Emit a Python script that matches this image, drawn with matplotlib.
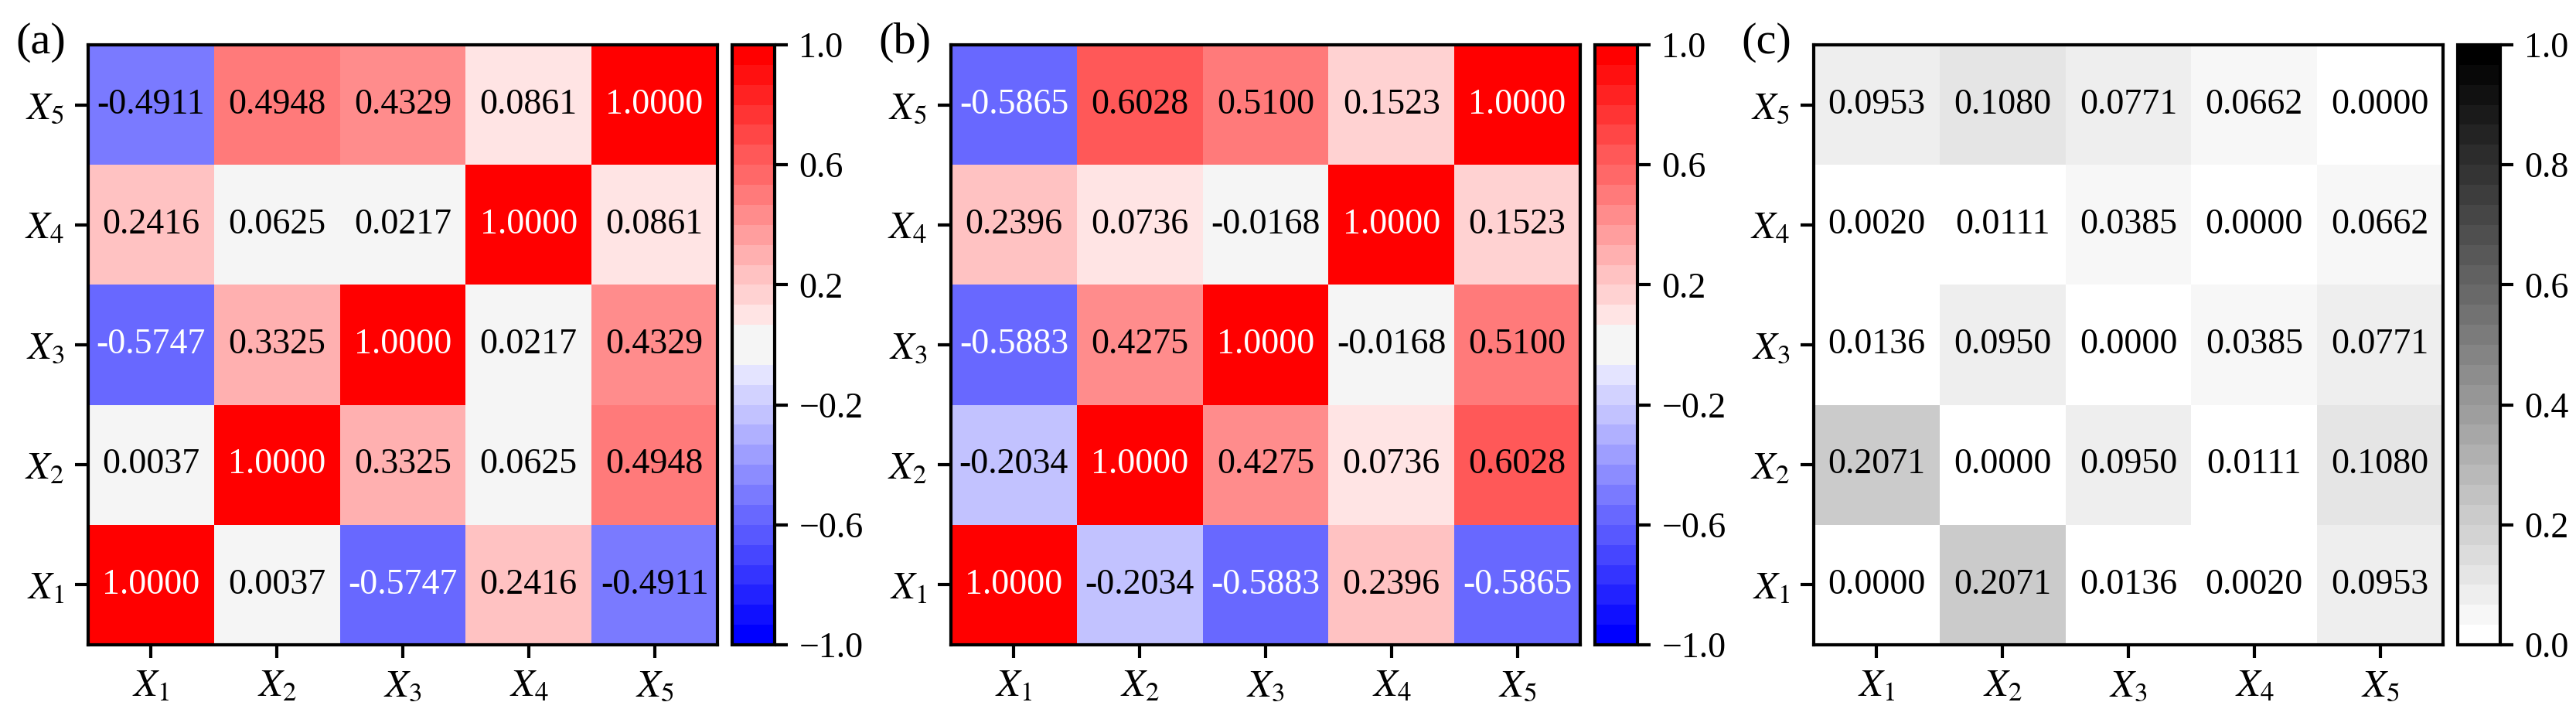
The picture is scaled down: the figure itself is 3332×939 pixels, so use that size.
import numpy as np
import matplotlib
matplotlib.use("Agg")
import matplotlib.pyplot as plt
from matplotlib.colors import ListedColormap

plt.rcParams['font.family'] = ['Liberation Serif', 'DejaVu Serif']
plt.rcParams['mathtext.fontset'] = 'stix'
plt.rcParams['font.size'] = 11

names = [r'$X_1$', r'$X_2$', r'$X_3$', r'$X_4$', r'$X_5$']

# rows X1..X5 (X1 drawn at the bottom)
corr_a = [[1.0000, 0.0037, -0.5747, 0.2416, -0.4911],
          [0.0037, 1.0000, 0.3325, 0.0625, 0.4948],
          [-0.5747, 0.3325, 1.0000, 0.0217, 0.4329],
          [0.2416, 0.0625, 0.0217, 1.0000, 0.0861],
          [-0.4911, 0.4948, 0.4329, 0.0861, 1.0000]]

corr_b = [[1.0000, -0.2034, -0.5883, 0.2396, -0.5865],
          [-0.2034, 1.0000, 0.4275, 0.0736, 0.6028],
          [-0.5883, 0.4275, 1.0000, -0.0168, 0.5100],
          [0.2396, 0.0736, -0.0168, 1.0000, 0.1523],
          [-0.5865, 0.6028, 0.5100, 0.1523, 1.0000]]

diff_c = [[0.0000, 0.2071, 0.0136, 0.0020, 0.0953],
          [0.2071, 0.0000, 0.0950, 0.0111, 0.1080],
          [0.0136, 0.0950, 0.0000, 0.0385, 0.0771],
          [0.0020, 0.0111, 0.0385, 0.0000, 0.0662],
          [0.0953, 0.1080, 0.0771, 0.0662, 0.0000]]

panel_tags = ['(a)', '(b)', '(c)']

# discrete colormaps, 30 levels
nlev = 30
bwr_cols = plt.get_cmap('bwr')(np.linspace(0, 1, nlev))
bwr_cols[14] = [0.961, 0.961, 0.961, 1]
bwr_cols[15] = [0.961, 0.961, 0.961, 1]
cmap_div = ListedColormap(bwr_cols)
cmap_gray = ListedColormap(plt.get_cmap('gray_r')(np.linspace(0, 1, nlev)))

W, H = 3332, 939
fig = plt.figure(figsize=(W / 300, H / 300), dpi=300)

ax_left = 114 / W
ax_w = 814 / W
ax_b = (H - 834) / H
ax_h = 776 / H
cb_left = 947 / W
cb_w = 55 / W
step = 1116 / W

panels = [(corr_a, cmap_div, -1, 1, [-1.0, -0.6, -0.2, 0.2, 0.6, 1.0]),
          (corr_b, cmap_div, -1, 1, [-1.0, -0.6, -0.2, 0.2, 0.6, 1.0]),
          (diff_c, cmap_gray, 0, 1, [0.0, 0.2, 0.4, 0.6, 0.8, 1.0])]

for k, (mat, cmap, vmin, vmax, cticks) in enumerate(panels):
    M = np.array(mat)
    ax = fig.add_axes([ax_left + k * step, ax_b, ax_w, ax_h])
    cax = fig.add_axes([cb_left + k * step, ax_b, cb_w, ax_h])
    mesh = ax.pcolormesh(np.arange(6), np.arange(6), M, cmap=cmap,
                         vmin=vmin, vmax=vmax)
    for i in range(5):
        for j in range(5):
            v = M[i, j]
            if vmin < 0 and (v <= -0.55 or v >= 0.95):
                col = 'white'
            else:
                col = 'black'
            ax.text(j + 0.5, i + 0.5, '%.4f' % v, ha='center', va='center',
                    color=col, fontsize=11)
    ax.set_xticks(np.arange(5) + 0.5)
    ax.set_yticks(np.arange(5) + 0.5)
    ax.set_xticklabels(names, fontsize=12)
    ax.set_yticklabels(names, fontsize=12)
    ax.set_xlim(0, 5)
    ax.set_ylim(0, 5)
    for s in ax.spines.values():
        s.set_linewidth(1.0)
    ax.tick_params(width=1.0, length=4)
    cb = fig.colorbar(mesh, cax=cax, ticks=cticks)
    cb.ax.set_yticklabels(['%.1f' % t if t >= 0 else '\u2212%.1f' % -t for t in cticks])
    cb.outline.set_linewidth(1.0)
    cb.ax.tick_params(width=1.0, length=4, labelsize=11)
    fig.text((20 / W) + k * step, 1 - 55 / H, panel_tags[k], fontsize=14,
             ha='left', va='center')

fig.savefig('out.png', dpi=300)
